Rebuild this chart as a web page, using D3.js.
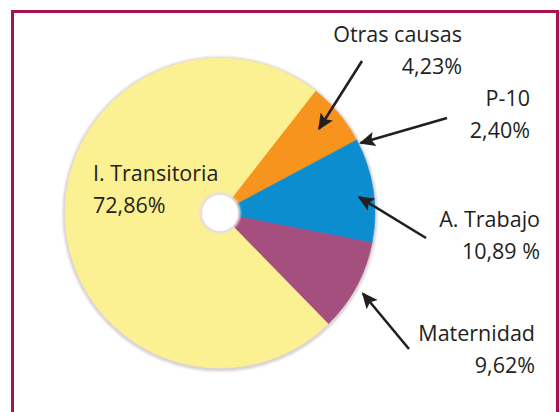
<!DOCTYPE html>
<html>
<head>
<meta charset="utf-8">
<script src="https://cdn.jsdelivr.net/npm/d3@7"></script>
<style>
  body { margin: 0; background: #fff; }
  svg { display: block; }
  .lbl { font-family: "Open Sans", "DejaVu Sans", sans-serif; font-size: 21.5px; fill: #231f20; }
</style>
</head>
<body>
<svg id="chart"></svg>
<script>
const width = 560;
const height = 412;

// data (pie order, clockwise from the top right)
const categories = ["Otras causas", "P-10", "A. Trabajo", "Maternidad", "I. Transitoria"];
const values = [4.23, 2.40, 10.89, 9.62, 72.86];
const valueLabels = ["4,23%", "2,40%", "10,89 %", "9,62%", "72,86%"];
const colors = ["#f7941e", "#f7941e", "#0b8dcf", "#a54f7f", "#fcf192"];

const cx = 220, cy = 213;
const radius = 155;
const holeRadius = 19;

const svg = d3.select("#chart")
    .attr("width", width)
    .attr("height", height);

const defs = svg.append("defs");
defs.append("filter").attr("id", "soft")
    .append("feGaussianBlur").attr("stdDeviation", 1.2);
defs.append("marker")
    .attr("id", "head")
    .attr("viewBox", "0 0 10 10")
    .attr("refX", 9).attr("refY", 5)
    .attr("markerWidth", 6.2).attr("markerHeight", 6.2)
    .attr("markerUnits", "strokeWidth")
    .attr("orient", "auto")
    .append("path")
    .attr("d", "M0,0.5 L10,5 L0,9.5 L2,5 Z")
    .attr("fill", "#231f20");

// frame
svg.append("rect")
    .attr("x", 12.5).attr("y", 11.5)
    .attr("width", 545).attr("height", 420)
    .attr("fill", "#fff")
    .attr("stroke", "#a8124e")
    .attr("stroke-width", 3);

const g = svg.append("g").attr("transform", `translate(${cx},${cy})`);

// grey rim behind pie
g.append("circle")
    .attr("r", radius + 2.5)
    .attr("cy", 1)
    .attr("fill", "#d9d3d6")
    .attr("filter", "url(#soft)");

const pie = d3.pie().sort(null)
    .startAngle(38 * Math.PI / 180)
    .endAngle(38 * Math.PI / 180 + 2 * Math.PI);
const arcs = pie(values);
const arc = d3.arc().innerRadius(0).outerRadius(radius);

g.selectAll("path.slice")
    .data(arcs)
    .enter().append("path")
    .attr("class", "slice")
    .attr("d", arc)
    .attr("fill", (d, i) => colors[i])
    .attr("stroke", (d, i) => colors[i])
    .attr("stroke-width", 0.5);

// centre hole
g.append("circle")
    .attr("r", holeRadius + 1.5)
    .attr("fill", "#e4dde2")
    .attr("filter", "url(#soft)");
g.append("circle")
    .attr("r", holeRadius - 1)
    .attr("fill", "#fff");

// labels: text anchor points and arrow tails (layout only)
const labels = [
    {i: 0, x: 462, y: 42, anchor: "end", tail: [362, 61], tipR: 130, tipOff: 4},
    {i: 1, x: 530, y: 106, anchor: "end", tail: [447, 118], tipR: 157, tipOff: 6},
    {i: 2, x: 540, y: 227, anchor: "end", tail: [426, 238], tipR: 140, tipOff: 2},
    {i: 3, x: 535, y: 341, anchor: "end", tail: [409, 349], tipR: 164, tipOff: 1},
    {i: 4, x: 93, y: 181, anchor: "start", tail: null}
];

labels.forEach(l => {
    const t = svg.append("text")
        .attr("class", "lbl")
        .attr("text-anchor", l.anchor);
    t.append("tspan").attr("x", l.x).attr("y", l.y).text(categories[l.i]);
    t.append("tspan").attr("x", l.x).attr("y", l.y + 32).text(valueLabels[l.i]);

    if (l.tail) {
        const a = arcs[l.i];
        const ang = (a.startAngle + a.endAngle) / 2 + l.tipOff * Math.PI / 180;
        const tip = [cx + l.tipR * Math.sin(ang), cy - l.tipR * Math.cos(ang)];
        svg.append("line")
            .attr("x1", l.tail[0]).attr("y1", l.tail[1])
            .attr("x2", tip[0]).attr("y2", tip[1])
            .attr("stroke", "#231f20")
            .attr("stroke-width", 2.6)
            .attr("marker-end", "url(#head)");
    }
});
</script>
</body>
</html>
